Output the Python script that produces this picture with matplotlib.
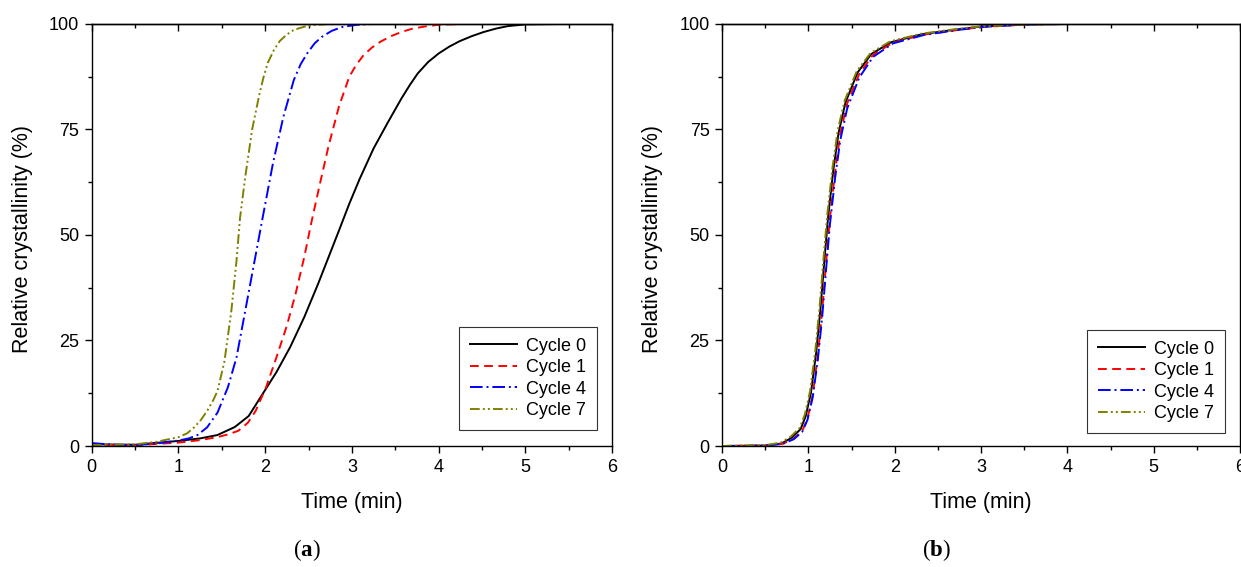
import matplotlib

matplotlib.use("Agg")
import matplotlib.pyplot as plt
from matplotlib.ticker import MultipleLocator

# ---- dados: tempo (min) e cristalinidade relativa (%) ----
# painel (a)
a0_t = [0, 0.5, 1.0, 1.25, 1.45, 1.65, 1.81, 1.97, 2.13, 2.29, 2.45, 2.61, 2.73,
        2.85, 2.97, 3.09, 3.25, 3.41, 3.57, 3.67, 3.76, 3.88, 4.0, 4.12, 4.24,
        4.38, 4.52, 4.66, 4.8, 5.0, 5.4]
a0_y = [0.4, 0.3, 1.2, 1.8, 2.6, 4.5, 7.1, 12.3, 17.5, 23.5, 30.5, 38.4, 44.7,
        51, 57.4, 63.3, 70.5, 76.5, 82.3, 85.6, 88.3, 91, 93, 94.6, 95.9,
        97.1, 98.1, 98.9, 99.5, 99.9, 100]
a1_t = [0, 0.5, 1.0, 1.25, 1.45, 1.58, 1.69, 1.80, 1.89, 2.01, 2.13, 2.25, 2.35,
        2.45, 2.53, 2.63, 2.73, 2.85, 2.97, 3.05, 3.13, 3.23, 3.33, 3.45, 3.57,
        3.70, 3.84, 4.0, 4.24, 5.4]
a1_y = [0.3, 0.2, 0.8, 1.4, 2.1, 2.8, 3.6, 5.5, 8.3, 13.9, 21, 28.5, 36,
        44.7, 52.7, 62, 71, 80.4, 87.5, 90.3, 92.5, 94.4, 95.8, 97.1, 98.1,
        98.9, 99.4, 99.8, 100, 100]
a4_t = [0, 0.25, 0.5, 0.75, 1.0, 1.12, 1.22, 1.33, 1.45, 1.57, 1.67, 1.77, 1.87,
        1.97, 2.09, 2.21, 2.33, 2.41, 2.49, 2.57, 2.65, 2.77, 2.89, 3.05, 3.25, 3.6]
a4_y = [0.7, 0.3, 0.2, 0.6, 1.3, 1.8, 2.6, 4.4, 7.9, 13.9, 21, 32, 43,
        54, 67, 78, 86.7, 90.5, 93.2, 95.4, 96.9, 98.4, 99.3, 99.8, 100, 100]
a7_t = [0, 0.5, 0.75, 1.0, 1.1, 1.18, 1.26, 1.33, 1.40, 1.45, 1.53, 1.61, 1.67,
        1.71, 1.77, 1.85, 1.93, 1.98, 2.03, 2.10, 2.17, 2.25, 2.33, 2.49, 2.73, 3.0]
a7_y = [0.2, 0.4, 1.0, 2.1, 3.0, 4.4, 6.2, 8.3, 10.8, 13, 20, 32, 44,
        54, 63.7, 75, 83, 87.3, 90.8, 93.8, 96, 97.5, 98.6, 99.6, 100, 100]

# painel (b)
b0_t = [0, 0.5, 0.69, 0.81, 0.91, 0.97, 1.03, 1.09, 1.14, 1.19, 1.23, 1.29, 1.35,
        1.43, 1.57, 1.73, 1.96, 2.32, 2.72, 3.0, 3.51, 4.0]
b0_y = [0, 0.1, 0.6, 2, 4, 7.1, 12.6, 22, 32.4, 45, 54.5, 65.5, 74.2,
        81.4, 88.5, 92.9, 95.7, 97.6, 98.7, 99.4, 99.9, 100]
b1_t = [0, 0.5, 0.70, 0.83, 0.93, 0.99, 1.05, 1.11, 1.16, 1.21, 1.25, 1.31, 1.37,
        1.45, 1.59, 1.75, 1.98, 2.34, 2.74, 3.02, 3.53, 4.0]
b1_y = [0, 0.1, 0.5, 1.7, 3.6, 6.5, 12, 21.5, 32, 44.5, 54, 65, 74,
        81.2, 88.2, 92.7, 95.6, 97.5, 98.6, 99.3, 99.9, 100]
b4_t = [0, 0.5, 0.70, 0.83, 0.93, 0.99, 1.05, 1.11, 1.16, 1.21, 1.25, 1.31, 1.37,
        1.45, 1.59, 1.75, 1.98, 2.34, 2.74, 3.02, 3.53, 4.0]
b4_y = [0, 0.1, 0.5, 1.6, 3.4, 6.2, 11.5, 20.5, 30.5, 43, 52.5, 63.5, 72.5,
        80, 87.3, 92.2, 95.4, 97.4, 98.6, 99.3, 99.9, 100]
b7_t = [0, 0.5, 0.68, 0.80, 0.90, 0.96, 1.02, 1.08, 1.13, 1.18, 1.22, 1.28, 1.34,
        1.42, 1.56, 1.72, 1.95, 2.31, 2.71, 2.99, 3.5, 4.0]
b7_y = [0, 0.2, 0.8, 2.3, 4.3, 7.5, 13, 22.5, 33, 45.5, 55, 66, 74.8,
        81.8, 88.8, 93.1, 95.9, 97.7, 98.8, 99.4, 99.9, 100]

labels = ["Cycle 0", "Cycle 1", "Cycle 4", "Cycle 7"]
colors = ["black", "#FF0000", "#0000FF", "#808000"]
styles = ["-", (0, (4.5, 2.8)), (0, (6.5, 2, 1, 2)), (0, (5, 1.6, 1, 1.6, 1, 1.6))]

plt.rcParams.update({
    "font.family": ["Liberation Sans", "DejaVu Sans"],
    "font.size": 13,
    "axes.linewidth": 1.0,
    "mathtext.fontset": "custom",
    "mathtext.rm": "Liberation Serif",
    "mathtext.bf": "Liberation Serif:bold",
})

fig = plt.figure(figsize=(12.41, 5.67), dpi=100)
ax_a = fig.add_axes([0.0739, 0.2134, 0.4193, 0.7443])
ax_b = fig.add_axes([0.5818, 0.2134, 0.4174, 0.7443])


def _panel(ax, series, legend_anchor):
    for (t, y), lab, c, ls in zip(series, labels, colors, styles):
        ax.plot(t, y, color=c, linestyle=ls, linewidth=1.4, label=lab)
    ax.set_xlim(0, 6)
    ax.set_ylim(0, 100)
    ax.xaxis.set_major_locator(MultipleLocator(1))
    ax.xaxis.set_minor_locator(MultipleLocator(0.5))
    ax.yaxis.set_major_locator(MultipleLocator(25))
    ax.yaxis.set_minor_locator(MultipleLocator(12.5))
    ax.tick_params(which="major", direction="out", length=5, width=1, pad=4)
    ax.tick_params(which="minor", direction="out", length=3, width=1)
    ax.set_xlabel("Time (min)", fontsize=15.5, labelpad=12)
    ax.set_ylabel("Relative crystallinity (%)", fontsize=15.5)
    ax.yaxis.set_label_coords(-0.113, 0.49)
    # ticks espelhados no topo, para dentro
    top = ax.secondary_xaxis("top")
    top.xaxis.set_major_locator(MultipleLocator(1))
    top.xaxis.set_minor_locator(MultipleLocator(0.5))
    top.tick_params(which="major", direction="in", length=5, width=1, labeltop=False)
    top.tick_params(which="minor", direction="in", length=3, width=1)
    leg = ax.legend(
        loc="lower right",
        bbox_to_anchor=legend_anchor,
        borderaxespad=0,
        fontsize=13,
        frameon=True,
        fancybox=False,
        framealpha=1,
        edgecolor="#333333",
        handlelength=2.6,
        handletextpad=0.5,
        labelspacing=0.25,
        borderpad=0.6,
    )
    leg.get_frame().set_linewidth(0.8)


_panel(ax_a, [(a0_t, a0_y), (a1_t, a1_y), (a4_t, a4_y), (a7_t, a7_y)],
       (0.971, 0.038))
_panel(ax_b, [(b0_t, b0_y), (b1_t, b1_y), (b4_t, b4_y), (b7_t, b7_y)],
       (0.971, 0.031))

fig.text(0.2474, 0.03, r"($\mathbf{a}$)", ha="center", va="center", fontsize=16.5,
         family="Liberation Serif")
fig.text(0.755, 0.03, r"($\mathbf{b}$)", ha="center", va="center", fontsize=16.5,
         family="Liberation Serif")

fig.savefig("out.png", dpi=100)
